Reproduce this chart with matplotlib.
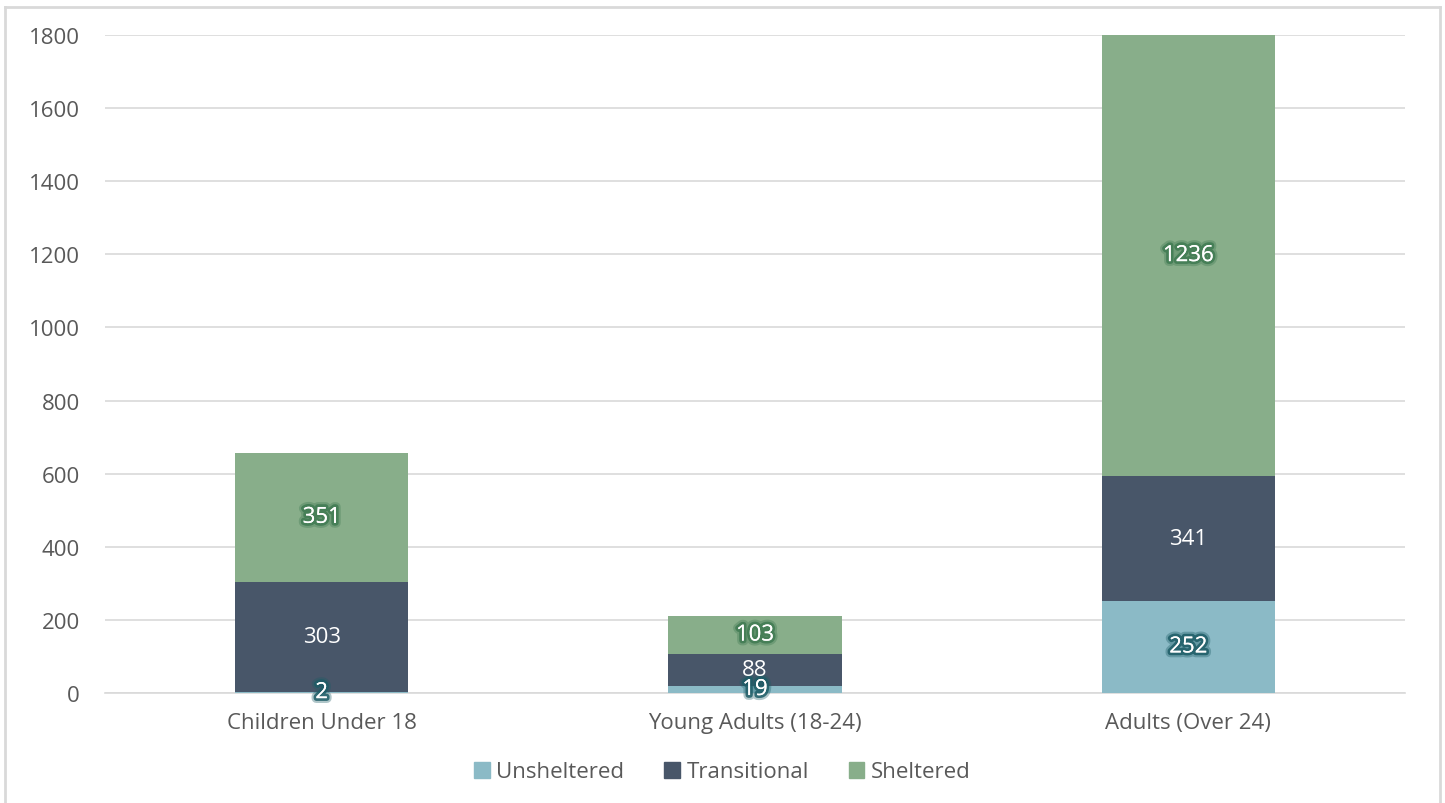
import matplotlib
matplotlib.use("Agg")
import matplotlib.pyplot as plt
import matplotlib.patheffects as pe
from matplotlib.lines import Line2D
import numpy as np

categories = ["Children Under 18", "Young Adults (18-24)", "Adults (Over 24)"]
series_names = ["Unsheltered", "Transitional", "Sheltered"]
unsheltered = [2, 19, 252]
transitional = [303, 88, 341]
sheltered = [351, 103, 1236]
y_ticks = [0, 200, 400, 600, 800, 1000, 1200, 1400, 1600, 1800]

colors = ["#8bbac6", "#485669", "#88ae8a"]
glow = ["#1d5c66", None, "#3f7a52"]

plt.rcParams["font.family"] = ["Open Sans", "DejaVu Sans"]
FS = 16

fig = plt.figure(figsize=(14.45, 8.04), dpi=100)
ax = fig.add_axes([105 / 1445, 1 - 694 / 804, 1300 / 1445, 658 / 804])

ymax = y_ticks[-1]
x = np.arange(len(categories))
bottom = np.zeros(len(categories))
for vals, name, col, gcol in zip([unsheltered, transitional, sheltered],
                                 series_names, colors, glow):
    vals = np.array(vals, dtype=float)
    ax.bar(x, vals, width=0.4, bottom=bottom, color=col, label=name,
           zorder=3)
    for xi, b, v in zip(x, bottom, vals):
        top = min(b + v, ymax)
        yc = (b + top) / 2
        effects = None
        if gcol:
            effects = [pe.withStroke(linewidth=7, foreground=gcol, alpha=0.35),
                       pe.withStroke(linewidth=4, foreground=gcol, alpha=0.85),
                       pe.Normal()]
        ax.text(xi, yc, f"{int(v)}", ha="center", va="center",
                color="white", fontsize=FS, zorder=5,
                path_effects=effects)
    bottom += vals

ax.set_xlim(-0.5, len(categories) - 0.5)
ax.set_ylim(0, ymax)
ax.set_yticks(y_ticks)
ax.set_xticks(x)
ax.set_xticklabels(categories)
ax.tick_params(axis="both", length=0, labelsize=FS, labelcolor="#595959")
ax.tick_params(axis="y", pad=18)
ax.tick_params(axis="x", pad=14)
ax.yaxis.grid(True, color="#d9d9d9", linewidth=1.2, zorder=0)
ax.set_axisbelow(True)
for s in ["top", "right", "left"]:
    ax.spines[s].set_visible(False)
ax.spines["bottom"].set_color("#d9d9d9")
ax.spines["bottom"].set_linewidth(1.2)

handles = [plt.Rectangle((0, 0), 1, 1, color=c) for c in colors]
fig.legend(handles, series_names, loc="center", bbox_to_anchor=(0.5, 1 - 773 / 804),
           ncol=3, frameon=False, fontsize=FS, handlelength=0.7,
           handleheight=0.7, handletextpad=0.3, columnspacing=1.8,
           labelcolor="#595959")

# outer frame
fc = "#d9d9d9"
fig.add_artist(Line2D([5 / 1445, 5 / 1445], [0, 1 - 8 / 804], color=fc, lw=2, transform=fig.transFigure))
fig.add_artist(Line2D([5 / 1445, 1440 / 1445], [1 - 8 / 804, 1 - 8 / 804], color=fc, lw=2, transform=fig.transFigure))
fig.add_artist(Line2D([1440 / 1445, 1440 / 1445], [0, 1 - 8 / 804], color=fc, lw=2, transform=fig.transFigure))

fig.savefig("out.png", dpi=100)
